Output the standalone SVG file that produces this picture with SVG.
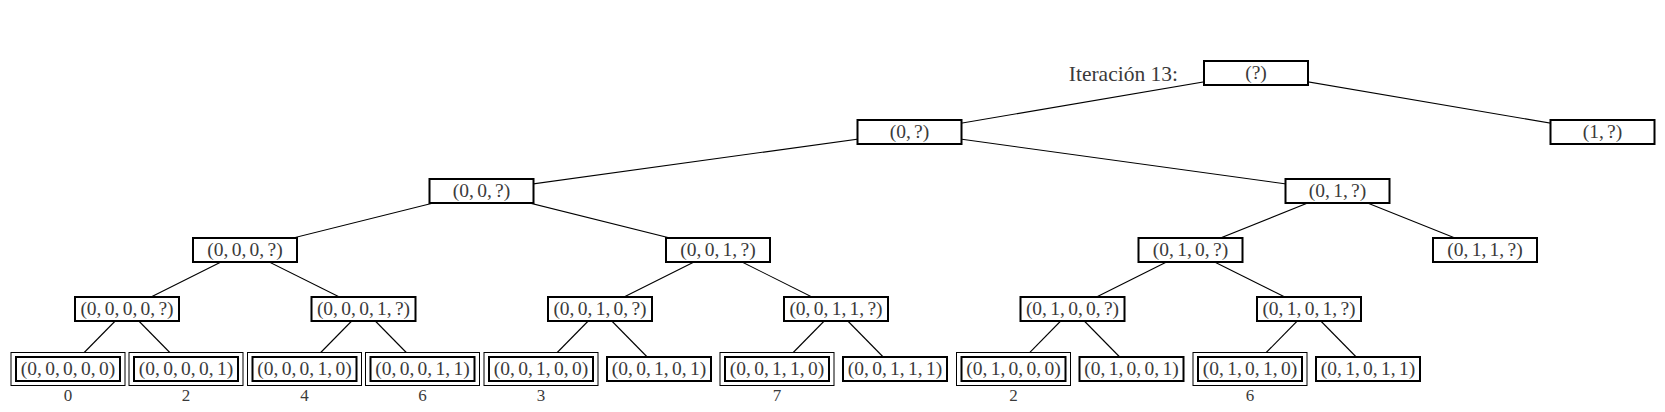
<svg xmlns="http://www.w3.org/2000/svg" width="1665" height="412" viewBox="0 0 1665 412">
<style>
.bx{fill:#fff;stroke:#000;stroke-width:2}
.ob{fill:#fff;stroke:#000;stroke-width:1}
.t{font-family:"Liberation Serif","Times New Roman",serif;font-size:19.5px;fill:#3a3a3a;text-anchor:middle;word-spacing:-1.6px}
.lb{font-family:"Liberation Serif","Times New Roman",serif;font-size:17px;fill:#3a3a3a;text-anchor:middle}
.it{font-family:"Liberation Serif","Times New Roman",serif;font-size:21.5px;fill:#3a3a3a;text-anchor:end}
#edges line{stroke:#000;stroke-width:1.1}
</style>
<rect width="1665" height="412" fill="#fff"/>
<g id="edges">
<line x1="1256" y1="73" x2="909.5" y2="132"/>
<line x1="1256" y1="73" x2="1602.5" y2="132"/>
<line x1="909.5" y1="132" x2="481.5" y2="191"/>
<line x1="909.5" y1="132" x2="1337.5" y2="191"/>
<line x1="481.5" y1="191" x2="245" y2="250"/>
<line x1="481.5" y1="191" x2="718" y2="250"/>
<line x1="1337.5" y1="191" x2="1190.5" y2="250"/>
<line x1="1337.5" y1="191" x2="1485" y2="250"/>
<line x1="245" y1="250" x2="127" y2="309"/>
<line x1="245" y1="250" x2="363.5" y2="309"/>
<line x1="718" y1="250" x2="600" y2="309"/>
<line x1="718" y1="250" x2="836" y2="309"/>
<line x1="1190.5" y1="250" x2="1072.5" y2="309"/>
<line x1="1190.5" y1="250" x2="1309" y2="309"/>
<line x1="127" y1="309" x2="68" y2="369"/>
<line x1="127" y1="309" x2="186" y2="369"/>
<line x1="363.5" y1="309" x2="304.5" y2="369"/>
<line x1="363.5" y1="309" x2="422.5" y2="369"/>
<line x1="600" y1="309" x2="541" y2="369"/>
<line x1="600" y1="309" x2="659" y2="369"/>
<line x1="836" y1="309" x2="777" y2="369"/>
<line x1="836" y1="309" x2="895" y2="369"/>
<line x1="1072.5" y1="309" x2="1013.5" y2="369"/>
<line x1="1072.5" y1="309" x2="1131.5" y2="369"/>
<line x1="1309" y1="309" x2="1250" y2="369"/>
<line x1="1309" y1="309" x2="1368" y2="369"/>
</g>
<text class="it" x="1178" y="81">Iteración 13:</text>
<g id="n"><rect class="bx" x="1204" y="61" width="104" height="24"/><text class="t" x="1256" y="79">(?)</text></g>
<g id="n0"><rect class="bx" x="857.5" y="120" width="104" height="24"/><text class="t" x="909.5" y="138">(0, ?)</text></g>
<g id="n1"><rect class="bx" x="1550.5" y="120" width="104" height="24"/><text class="t" x="1602.5" y="138">(1, ?)</text></g>
<g id="n00"><rect class="bx" x="429.5" y="179" width="104" height="24"/><text class="t" x="481.5" y="197">(0, 0, ?)</text></g>
<g id="n01"><rect class="bx" x="1285.5" y="179" width="104" height="24"/><text class="t" x="1337.5" y="197">(0, 1, ?)</text></g>
<g id="n000"><rect class="bx" x="193" y="238" width="104" height="24"/><text class="t" x="245" y="256">(0, 0, 0, ?)</text></g>
<g id="n001"><rect class="bx" x="666" y="238" width="104" height="24"/><text class="t" x="718" y="256">(0, 0, 1, ?)</text></g>
<g id="n010"><rect class="bx" x="1138.5" y="238" width="104" height="24"/><text class="t" x="1190.5" y="256">(0, 1, 0, ?)</text></g>
<g id="n011"><rect class="bx" x="1433" y="238" width="104" height="24"/><text class="t" x="1485" y="256">(0, 1, 1, ?)</text></g>
<g id="n0000"><rect class="bx" x="75" y="297" width="104" height="24"/><text class="t" x="127" y="315">(0, 0, 0, 0, ?)</text></g>
<g id="n0001"><rect class="bx" x="311.5" y="297" width="104" height="24"/><text class="t" x="363.5" y="315">(0, 0, 0, 1, ?)</text></g>
<g id="n0010"><rect class="bx" x="548" y="297" width="104" height="24"/><text class="t" x="600" y="315">(0, 0, 1, 0, ?)</text></g>
<g id="n0011"><rect class="bx" x="784" y="297" width="104" height="24"/><text class="t" x="836" y="315">(0, 0, 1, 1, ?)</text></g>
<g id="n0100"><rect class="bx" x="1020.5" y="297" width="104" height="24"/><text class="t" x="1072.5" y="315">(0, 1, 0, 0, ?)</text></g>
<g id="n0101"><rect class="bx" x="1257" y="297" width="104" height="24"/><text class="t" x="1309" y="315">(0, 1, 0, 1, ?)</text></g>
<g id="l1"><rect class="ob" x="11" y="352.5" width="114" height="33"/><rect class="bx" x="16" y="357" width="104" height="24"/><text class="t" x="68" y="375">(0, 0, 0, 0, 0)</text><text class="lb" x="68" y="401">0</text></g>
<g id="l2"><rect class="ob" x="129" y="352.5" width="114" height="33"/><rect class="bx" x="134" y="357" width="104" height="24"/><text class="t" x="186" y="375">(0, 0, 0, 0, 1)</text><text class="lb" x="186" y="401">2</text></g>
<g id="l3"><rect class="ob" x="247.5" y="352.5" width="114" height="33"/><rect class="bx" x="252.5" y="357" width="104" height="24"/><text class="t" x="304.5" y="375">(0, 0, 0, 1, 0)</text><text class="lb" x="304.5" y="401">4</text></g>
<g id="l4"><rect class="ob" x="365.5" y="352.5" width="114" height="33"/><rect class="bx" x="370.5" y="357" width="104" height="24"/><text class="t" x="422.5" y="375">(0, 0, 0, 1, 1)</text><text class="lb" x="422.5" y="401">6</text></g>
<g id="l5"><rect class="ob" x="484" y="352.5" width="114" height="33"/><rect class="bx" x="489" y="357" width="104" height="24"/><text class="t" x="541" y="375">(0, 0, 1, 0, 0)</text><text class="lb" x="541" y="401">3</text></g>
<g id="l6"><rect class="bx" x="607" y="357" width="104" height="24"/><text class="t" x="659" y="375">(0, 0, 1, 0, 1)</text></g>
<g id="l7"><rect class="ob" x="720" y="352.5" width="114" height="33"/><rect class="bx" x="725" y="357" width="104" height="24"/><text class="t" x="777" y="375">(0, 0, 1, 1, 0)</text><text class="lb" x="777" y="401">7</text></g>
<g id="l8"><rect class="bx" x="843" y="357" width="104" height="24"/><text class="t" x="895" y="375">(0, 0, 1, 1, 1)</text></g>
<g id="l9"><rect class="ob" x="956.5" y="352.5" width="114" height="33"/><rect class="bx" x="961.5" y="357" width="104" height="24"/><text class="t" x="1013.5" y="375">(0, 1, 0, 0, 0)</text><text class="lb" x="1013.5" y="401">2</text></g>
<g id="l10"><rect class="bx" x="1079.5" y="357" width="104" height="24"/><text class="t" x="1131.5" y="375">(0, 1, 0, 0, 1)</text></g>
<g id="l11"><rect class="ob" x="1193" y="352.5" width="114" height="33"/><rect class="bx" x="1198" y="357" width="104" height="24"/><text class="t" x="1250" y="375">(0, 1, 0, 1, 0)</text><text class="lb" x="1250" y="401">6</text></g>
<g id="l12"><rect class="bx" x="1316" y="357" width="104" height="24"/><text class="t" x="1368" y="375">(0, 1, 0, 1, 1)</text></g>
</svg>
